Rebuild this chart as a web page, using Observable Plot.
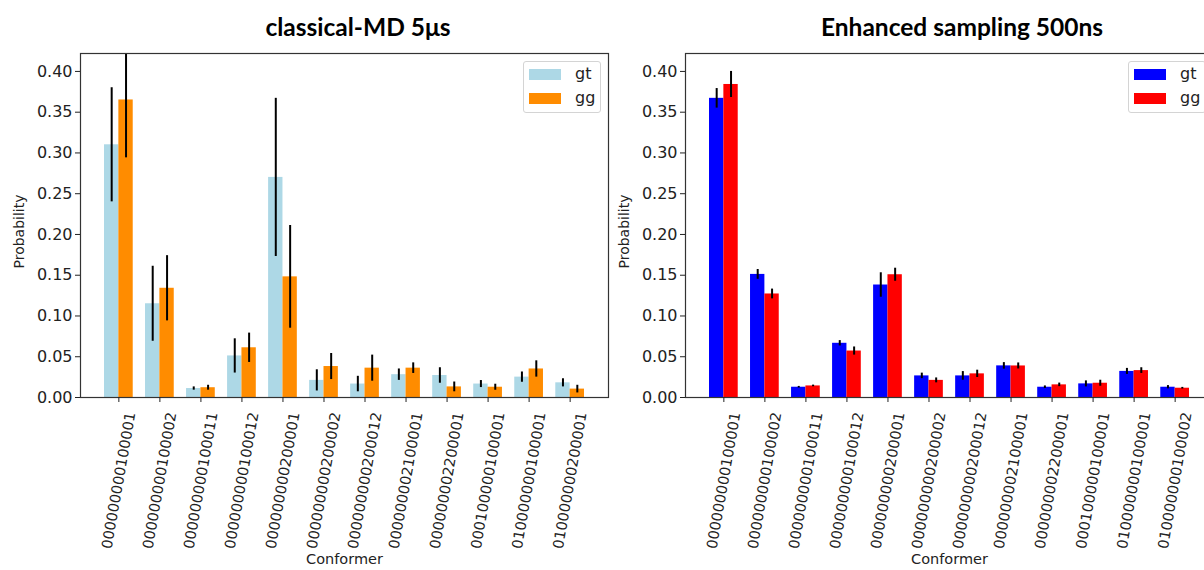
<!DOCTYPE html>
<html>
<head>
<meta charset="utf-8">
<script src="https://cdn.jsdelivr.net/npm/d3@7"></script>
<script src="https://cdn.jsdelivr.net/npm/@observablehq/plot@0.6"></script>
<style>
  html, body { margin: 0; padding: 0; background: #fff; }
  body { width: 1204px; height: 570px; overflow: hidden; position: relative; font-family: "DejaVu Sans", sans-serif; }
  .chart { position: absolute; top: 40px; }
  .title { position: absolute; top: 0; font-family: Lato, "Liberation Sans", sans-serif; font-weight: 700; font-size: 24.5px; color: #000; white-space: nowrap; transform: translateX(-50%); line-height: 54px; }
  .legend { position: absolute; background: rgba(255,255,255,0.85); border: 1px solid #d4d4d4; border-radius: 3px; box-sizing: border-box; }
  .sw { position: absolute; width: 32px; height: 11px; }
  .lab { position: absolute; font-family: "DejaVu Sans", sans-serif; font-size: 16px; line-height: 16px; color: #222; }
</style>
</head>
<body>
<script>
// ---- data ----
const conformersMD = ["000000000100001","000000000100002","000000000100011","000000000100012","000000000200001","000000000200002","000000000200012","000000002100001","000000002200001","000100000100001","010000000100001","010000000200001"];
const gtMD    = [0.310, 0.115, 0.011, 0.051, 0.270, 0.021, 0.0165, 0.028, 0.027, 0.0165, 0.025, 0.018];
const gtMDerr = [0.070, 0.046, 0.002, 0.021, 0.097, 0.013, 0.0095, 0.007, 0.0095, 0.0043, 0.0063, 0.005];
const ggMD    = [0.365, 0.134, 0.012, 0.061, 0.148, 0.038, 0.036, 0.036, 0.013, 0.0126, 0.035, 0.0103];
const ggMDerr = [0.071, 0.040, 0.003, 0.018, 0.063, 0.016, 0.016, 0.0065, 0.006, 0.0037, 0.010, 0.0047];

const conformersES = ["000000000100001","000000000100002","000000000100011","000000000100012","000000000200001","000000000200002","000000000200012","000000002100001","000000002200001","000100000100001","010000000100001","010000000100002"];
const gtES    = [0.367, 0.151, 0.0126, 0.0665, 0.138, 0.0265, 0.0265, 0.0388, 0.0126, 0.0167, 0.032, 0.0126];
const gtESerr = [0.012, 0.006, 0.001, 0.0033, 0.015, 0.0034, 0.0053, 0.004, 0.0016, 0.0037, 0.0037, 0.002];
const ggES    = [0.384, 0.127, 0.0142, 0.057, 0.1506, 0.021, 0.029, 0.0387, 0.0155, 0.0175, 0.033, 0.0114];
const ggESerr = [0.016, 0.006, 0.001, 0.005, 0.008, 0.003, 0.0045, 0.0037, 0.0022, 0.0037, 0.0035, 0.001];

const seriesNames = ["gt", "gg"];
const yTicks = [0, 0.05, 0.10, 0.15, 0.20, 0.25, 0.30, 0.35, 0.40];
const titles = ["classical-MD 5μs", "Enhanced sampling 500ns"];
const colorsMD = ["#ADD8E6", "#FF8C00"];
const colorsES = ["#0000FF", "#FF0000"];

const W = 0.35; // bar width in category units

function makeChart(conformers, gt, gtErr, gg, ggErr, colors) {
  const rows = conformers.flatMap((c, i) => [
    {i, c, s: "gt", v: gt[i], e: gtErr[i]},
    {i, c, s: "gg", v: gg[i], e: ggErr[i]}
  ]);
  const off = d => (d.s === "gt" ? -1 : 0) * W;
  return Plot.plot({
    width: 620, height: 530,
    marginLeft: 80, marginRight: 12, marginTop: 13, marginBottom: 173,
    style: {fontFamily: "DejaVu Sans", color: "#222", background: "transparent"},
    x: {domain: [-0.935, conformers.length - 1 + 0.935], axis: null},
    y: {domain: [0, 0.422], axis: null},
    color: {domain: seriesNames, range: colors},
    marks: [
      Plot.rectY(rows, {x1: d => d.i + off(d), x2: d => d.i + off(d) + W, y1: 0, y2: "v", fill: "s", inset: 0}),
      Plot.ruleX(rows, {x: d => d.i + off(d) + W / 2, y1: d => d.v - d.e, y2: d => d.v + d.e, stroke: "black", strokeWidth: 2, clip: true}),
      Plot.frame({stroke: "#333", strokeWidth: 1.2}),
      Plot.axisY({ticks: yTicks, tickFormat: d3.format(".2f"), tickSize: 5, tickPadding: 3, fontSize: 16, label: null}),
      Plot.axisX({ticks: d3.range(conformers.length), tickFormat: () => "", tickSize: 5, label: null}),
      Plot.text(conformers, {x: (d, i) => i, text: d => d, frameAnchor: "bottom", dy: 83, rotate: -80, textAnchor: "middle", lineAnchor: "middle", fontSize: 14.5, fill: "#222"}),
      Plot.text(["Conformer"], {text: d => d, frameAnchor: "bottom", dy: 162, textAnchor: "middle", lineAnchor: "middle", fontSize: 14.5, fill: "#222"}),
      Plot.text(["Probability"], {text: d => d, frameAnchor: "left", dx: -61, dy: 6, rotate: -90, textAnchor: "middle", lineAnchor: "middle", fontSize: 14, fill: "#222"})
    ]
  });
}

function addChart(node, left) {
  node.classList.add("chart");
  node.style.left = left + "px";
  document.body.appendChild(node);
}

addChart(makeChart(conformersMD, gtMD, gtMDerr, ggMD, ggMDerr, colorsMD), 0);
addChart(makeChart(conformersES, gtES, gtESerr, ggES, ggESerr, colorsES), 605);

function addTitle(text, cx) {
  const t = document.createElement("div");
  t.className = "title";
  t.textContent = text;
  t.style.left = cx + "px";
  document.body.appendChild(t);
}
addTitle(titles[0], 358);
addTitle(titles[1], 962);

function addLegend(left, colors) {
  const box = document.createElement("div");
  box.className = "legend";
  box.style.left = left + "px";
  box.style.top = "61px";
  box.style.width = "78px";
  box.style.height = "52px";
  document.body.appendChild(box);
  seriesNames.forEach((name, k) => {
    const sw = document.createElement("div");
    sw.className = "sw";
    sw.style.background = colors[k];
    sw.style.left = (left + 6) + "px";
    sw.style.top = (69 + k * 24) + "px";
    document.body.appendChild(sw);
    const lb = document.createElement("div");
    lb.className = "lab";
    lb.textContent = name;
    lb.style.left = (left + 52) + "px";
    lb.style.top = (66 + k * 24) + "px";
    document.body.appendChild(lb);
  });
}
addLegend(523, colorsMD);
addLegend(1128, colorsES);
</script>
</body>
</html>
